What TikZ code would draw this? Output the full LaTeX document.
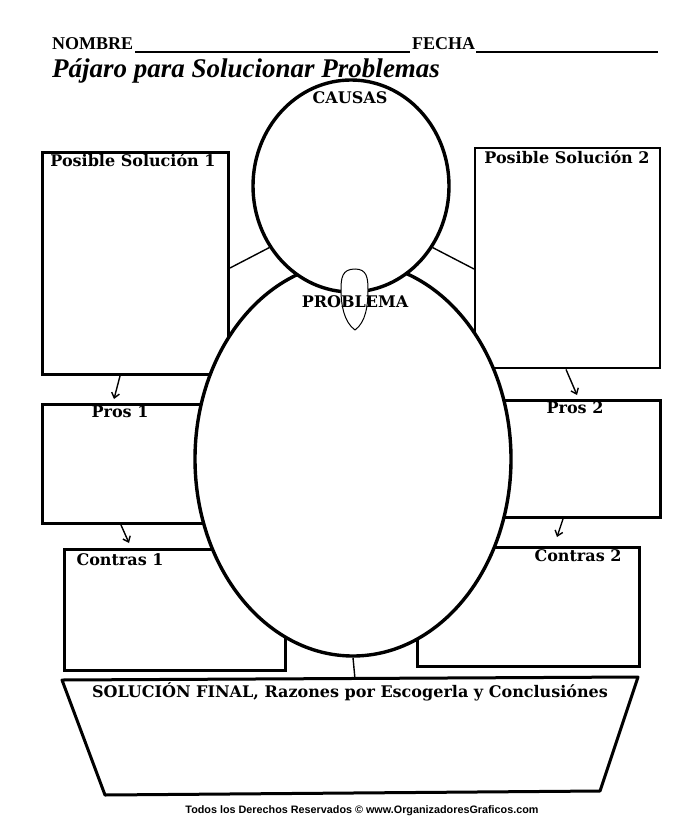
\documentclass[tikz,border=0pt]{standalone}
\usepackage{fontspec}
\setmainfont{Liberation Serif}
\newfontfamily\dvs{DejaVu Serif}
\newfontfamily\lsans{Liberation Sans}
\usetikzlibrary{shapes.geometric,calc,arrows.meta}
\begin{document}
\begin{tikzpicture}[x=1pt,y=-1pt,
  lbl/.style={font=\dvs\bfseries\fontsize{16}{18}\selectfont, anchor=base, inner sep=0},
  boxA/.style={draw, line width=3pt, fill=white, inner sep=0, anchor=north west},
  boxB/.style={draw, line width=2.4pt, fill=white, inner sep=0, anchor=north west},
  arr/.style={line width=1.4pt, -{Straight Barb[length=5pt,width=8pt]}},
  thin/.style={line width=1.4pt}]
\useasboundingbox (0,0) rectangle (700,840);
\fill[white] (0,0) rectangle (700,840);

% header
\node[font=\bfseries\fontsize{18}{20}\selectfont, anchor=base west, inner sep=0] (nom) at (52,50) {NOMBRE};
\node[font=\bfseries\fontsize{18}{20}\selectfont, anchor=base west, inner sep=0] (fec) at (412,50) {FECHA};
\coordinate (n1) at (135,52);
\coordinate (n2) at (410,52);
\coordinate (f1) at (476,52);
\coordinate (f2) at (658,52);
\draw[line width=1.3pt] (n1) -- (n2);
\draw[line width=1.3pt] (f1) -- (f2);
\node[font=\bfseries\itshape\fontsize{27}{30}\selectfont, anchor=base west, inner sep=0] (tit) at (52,78) {Pájaro para Solucionar Problemas};

% boxes
\node[boxA, minimum width=186, minimum height=222] (s1) at (41,151) {};
\node[boxB, minimum width=185, minimum height=220] (s2) at (474,147) {};
\node[boxA, minimum width=175, minimum height=119] (p1) at (41,403) {};
\node[boxA, minimum width=169, minimum height=117] (p2) at (490,399) {};
\node[boxA, minimum width=221, minimum height=121] (c1) at (63,548) {};
\node[boxA, minimum width=222, minimum height=119] (c2) at (416,546) {};

% arrows
\draw[arr] ($(s1.south west)+(79,0)$) -- ($(p1.north west)+(73,-4)$);
\draw[arr] ($(p1.south west)+(80,0)$) -- ($(c1.north west)+(66,-5)$);
\draw[arr] ($(s2.south west)+(92,0)$) -- ($(p2.north east)+(-85,-4)$);
\draw[arr] ($(p2.south east)+(-99,0)$) -- ($(c2.north west)+(141,-9)$);

% final trapezoid
\coordinate (t1) at (62,680);
\coordinate (t2) at (638,677);
\coordinate (t3) at (600,791);
\coordinate (t4) at (105,795);
\coordinate (tz) at (355,679);
\draw[line width=3pt, line join=round] (t1) -- (t2) -- (t3) -- (t4) -- cycle;

% body
\node[ellipse, draw, line width=3.4pt, fill=white, inner sep=0, minimum width=316, minimum height=394] (body) at (353,459) {};
\draw[thin] (body.south) -- (tz);

% head
\node[ellipse, draw, line width=3.4pt, fill=white, inner sep=0, minimum width=196, minimum height=212] (head) at (351,186) {};
\draw[thin] (head.217) -- ($(s1.north east)+(0,117)$);
\draw[thin] (head.323) -- ($(s2.north west)+(0,122)$);

% beak
\draw[line width=1pt, fill=white] (355,269) .. controls (342,269) and (341,278) .. (341,290)
  .. controls (341,305) and (344,322) .. (355,330)
  .. controls (366,322) and (368,305) .. (368,290)
  .. controls (368,278) and (367,269) .. (355,269) -- cycle;

% labels
\node[lbl] (ls1) at (133,166) {Posible Solución 1};
\node[lbl] (ls2) at (567,163) {Posible Solución 2};
\node[lbl] (lca) at (350,104) {CAUSAS};
\node[lbl] (lpr) at (355,307) {PROBLEMA};
\node[lbl] (lp1) at (120,417) {Pros 1};
\node[lbl] (lp2) at (575,413) {Pros 2};
\node[lbl] (lc1) at (120,565) {Contras 1};
\node[lbl] (lc2) at (578,561) {Contras 2};
\node[lbl] (lsf) at (350,697) {SOLUCIÓN FINAL, Razones por Escogerla y Conclusiónes};
\node[font=\lsans\bfseries\fontsize{10.8}{12}\selectfont, anchor=base, inner sep=0] (foot) at (362,813) {Todos los Derechos Reservados © www.OrganizadoresGraficos.com};
\end{tikzpicture}
\end{document}
